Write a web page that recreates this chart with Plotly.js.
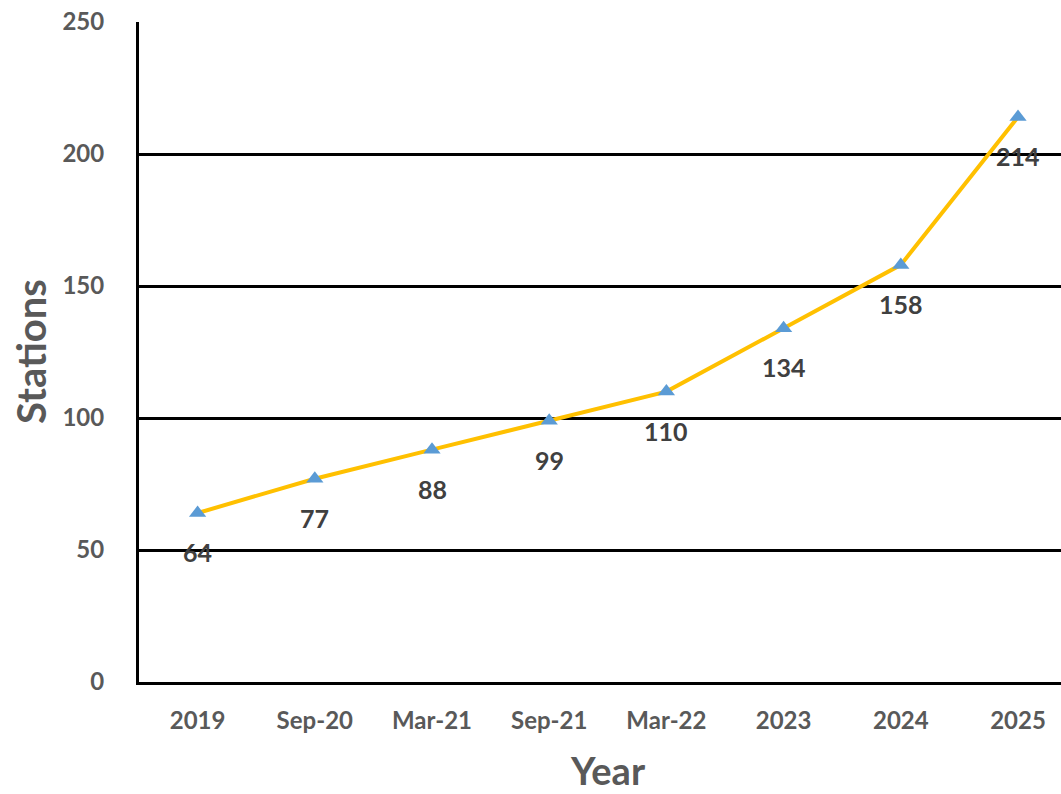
<!DOCTYPE html>
<html><head><meta charset="utf-8">
<script src="https://cdn.plot.ly/plotly-3.0.1.min.js"></script>
<style>html,body{margin:0;padding:0;background:#fff}#chart{width:1061px;height:794px}</style>
</head><body><div id="chart"></div>
<script>
const categories = ["2019","Sep-20","Mar-21","Sep-21","Mar-22","2023","2024","2025"];
const stations = [64,77,88,99,110,134,158,214];
const yTicks = [0,50,100,150,200,250];

const font = "Lato, 'Open Sans', sans-serif";
const trace = {
  x: categories.map((c,i)=>i), y: stations, type: "scatter", mode: "lines+markers",
  line: {color: "#FFC000", width: 4},
  marker: {symbol: "triangle-up", size: 15, color: "#5B9BD5"},
  hoverinfo: "skip", cliponaxis: false
};
const annotations = stations.map((v,i)=>({
  x: i, y: v, xref: "x", yref: "y", text: String(v), showarrow: false,
  yshift: -39, font: {family: font, size: 25, color: "#404040", weight: "bold"}
}));
annotations.push({xref:"paper", yref:"paper", x:(31-139)/922, xanchor:"center", yanchor:"middle", y:0.5, text:"Stations", textangle:-90, showarrow:false,
  font:{family:font, size:40, color:"#595959", weight:"bold"}});
annotations.push({xref:"paper", yref:"paper", x:(608-139)/922, xanchor:"center", y:-0.133, yanchor:"middle", text:"Year", showarrow:false,
  font:{family:font, size:38, color:"#595959", weight:"bold"}});

const layout = {
  width: 1061, height: 794,
  margin: {l: 139, r: 0, t: 22, b: 112},
  paper_bgcolor: "#fff", plot_bgcolor: "#fff",
  showlegend: false,
  xaxis: {
    range: [-0.5, -0.5 + 922/117.2], tickmode: "array",
    tickvals: categories.map((c,i)=>i), ticktext: categories,
    showgrid: false, zeroline: false, showline: true, linecolor: "#000", linewidth: 3,
    ticks: "", ticklabelstandoff: 15,
    tickfont: {family: font, size: 24, color: "#595959", weight: "bold"}
  },
  yaxis: {
    range: [0, 250], tickvals: yTicks, ticktext: yTicks.map(String),
    showgrid: true, gridcolor: "#000", gridwidth: 3,
    zeroline: false, showline: true, linecolor: "#000", linewidth: 3,
    ticks: "", ticklabelstandoff: 27,
    tickfont: {family: font, size: 24, color: "#595959", weight: "bold"}
  },
  annotations: annotations
};
Plotly.newPlot("chart", [trace], layout, {displayModeBar: false, staticPlot: true});
</script></body></html>
